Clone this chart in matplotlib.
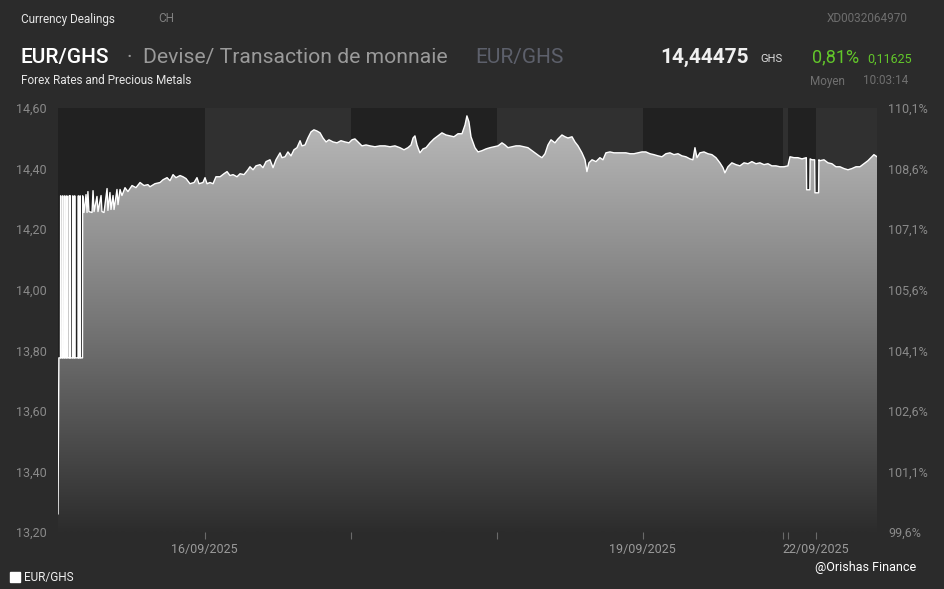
import numpy as np
import matplotlib.pyplot as plt
from matplotlib.colors import LinearSegmentedColormap

plt.rcParams['font.family'] = ['Roboto', 'DejaVu Sans']

# x = trading-day position (0 = 15/09 open, weekend compressed), y = EUR/GHS rate
day_pos = [
    0.000, 0.006, 0.017, 0.018, 0.019, 0.020, 0.031, 0.032, 0.033, 0.034,
    0.045, 0.046, 0.047, 0.048, 0.059, 0.060, 0.061, 0.062, 0.076, 0.077,
    0.078, 0.079, 0.083, 0.084, 0.085, 0.086, 0.100, 0.101, 0.102, 0.103,
    0.113, 0.114, 0.115, 0.116, 0.138, 0.139, 0.140, 0.141, 0.150, 0.151,
    0.152, 0.153, 0.168, 0.169, 0.172,
    0.178, 0.192, 0.199, 0.205, 0.212, 0.233, 0.240, 0.247, 0.267, 0.274,
    0.295, 0.301, 0.315, 0.336, 0.342, 0.356, 0.363, 0.377, 0.384, 0.404,
    0.411, 0.425, 0.438, 0.459, 0.479, 0.507, 0.534, 0.562, 0.589, 0.616,
    0.630, 0.664, 0.699, 0.719, 0.747, 0.767, 0.788, 0.808, 0.836, 0.856,
    0.877, 0.904, 0.932, 0.952, 0.966, 0.993, 1.007, 1.021, 1.041, 1.062,
    1.082, 1.110, 1.137, 1.158, 1.178, 1.199, 1.226, 1.247, 1.274, 1.301,
    1.315, 1.336, 1.356, 1.384, 1.404, 1.425, 1.452, 1.473, 1.493, 1.521,
    1.534, 1.555, 1.575, 1.596, 1.616, 1.637, 1.658, 1.671, 1.692, 1.712,
    1.733, 1.753, 1.774, 1.795, 1.815, 1.836, 1.856, 1.884, 1.911, 1.938,
    1.966, 1.993, 2.014, 2.034, 2.055, 2.082, 2.110, 2.137, 2.171, 2.205,
    2.240, 2.274, 2.308, 2.342, 2.370, 2.397, 2.418, 2.432, 2.445, 2.459,
    2.479, 2.500, 2.521, 2.548, 2.575, 2.603, 2.630, 2.658, 2.685, 2.712,
    2.740, 2.767, 2.788, 2.801, 2.815, 2.829, 2.842, 2.856, 2.877, 2.904,
    2.932, 2.959, 2.986, 3.014, 3.041, 3.062, 3.082, 3.110, 3.137, 3.164,
    3.192, 3.219, 3.247, 3.267, 3.295, 3.315, 3.336, 3.356, 3.377, 3.404,
    3.425, 3.452, 3.473, 3.493, 3.521, 3.541, 3.562, 3.589, 3.610, 3.623,
    3.637, 3.658, 3.685, 3.712, 3.733, 3.753, 3.781, 3.808, 3.836, 3.863,
    3.890, 3.918, 3.945, 3.973, 4.000, 4.027, 4.055, 4.082, 4.110, 4.137,
    4.164, 4.192, 4.219, 4.247, 4.274, 4.301, 4.329, 4.349, 4.363, 4.377,
    4.397, 4.425, 4.452, 4.479, 4.507, 4.534, 4.555, 4.568, 4.589, 4.616,
    4.644, 4.671, 4.699, 4.726, 4.753, 4.781, 4.808, 4.836, 4.863, 4.890,
    4.918, 4.945, 4.973, 5.000, 5.014, 5.041, 5.068, 5.096, 5.126, 5.128,
    5.150, 5.152, 5.164, 5.183, 5.185, 5.210, 5.212, 5.219, 5.247, 5.274,
    5.301, 5.329, 5.356, 5.384, 5.411, 5.438, 5.466, 5.493, 5.521, 5.548,
    5.575, 5.589, 5.610,
]
rate = [
    13.260, 13.775, 13.775, 14.310, 14.310, 13.775, 13.775, 14.310, 14.310, 13.775,
    13.775, 14.310, 14.310, 13.775, 13.775, 14.310, 14.310, 13.775, 13.775, 14.310,
    14.310, 13.775, 13.775, 14.310, 14.310, 13.775, 13.775, 14.310, 14.310, 13.775,
    13.775, 14.310, 14.310, 13.775, 13.775, 14.310, 14.310, 13.775, 13.775, 14.310,
    14.310, 13.775, 13.775, 14.310, 14.300,
    14.255, 14.314, 14.255, 14.324, 14.258, 14.255, 14.327, 14.258, 14.308, 14.258,
    14.311, 14.258, 14.255, 14.334, 14.262, 14.321, 14.265, 14.311, 14.265, 14.331,
    14.281, 14.331, 14.311, 14.337, 14.324, 14.344, 14.337, 14.354, 14.344, 14.347,
    14.340, 14.350, 14.354, 14.363, 14.370, 14.360, 14.380, 14.370, 14.377, 14.373,
    14.367, 14.350, 14.354, 14.370, 14.350, 14.354, 14.370, 14.350, 14.354, 14.350,
    14.373, 14.373, 14.383, 14.390, 14.377, 14.380, 14.373, 14.383, 14.380, 14.396,
    14.406, 14.396, 14.409, 14.413, 14.403, 14.423, 14.429, 14.403, 14.429, 14.452,
    14.436, 14.439, 14.455, 14.442, 14.462, 14.469, 14.492, 14.475, 14.478, 14.501,
    14.521, 14.528, 14.524, 14.518, 14.501, 14.488, 14.495, 14.488, 14.485, 14.492,
    14.488, 14.485, 14.495, 14.498, 14.488, 14.475, 14.478, 14.475, 14.472, 14.475,
    14.475, 14.472, 14.475, 14.469, 14.462, 14.469, 14.478, 14.501, 14.508, 14.478,
    14.452, 14.465, 14.469, 14.485, 14.498, 14.508, 14.518, 14.511, 14.508, 14.505,
    14.515, 14.515, 14.544, 14.574, 14.554, 14.505, 14.488, 14.469, 14.455, 14.459,
    14.465, 14.469, 14.472, 14.475, 14.485, 14.478, 14.469, 14.472, 14.475, 14.475,
    14.472, 14.469, 14.459, 14.452, 14.442, 14.436, 14.449, 14.478, 14.495, 14.485,
    14.498, 14.511, 14.505, 14.501, 14.505, 14.488, 14.475, 14.452, 14.429, 14.390,
    14.419, 14.429, 14.423, 14.436, 14.429, 14.452, 14.455, 14.452, 14.452, 14.452,
    14.452, 14.449, 14.449, 14.452, 14.455, 14.455, 14.449, 14.446, 14.442, 14.439,
    14.449, 14.452, 14.446, 14.449, 14.442, 14.439, 14.432, 14.429, 14.469, 14.436,
    14.452, 14.455, 14.449, 14.446, 14.436, 14.419, 14.403, 14.386, 14.406, 14.419,
    14.413, 14.409, 14.419, 14.416, 14.423, 14.416, 14.419, 14.413, 14.416, 14.409,
    14.409, 14.406, 14.406, 14.409, 14.439, 14.436, 14.436, 14.432, 14.436, 14.330,
    14.330, 14.432, 14.429, 14.429, 14.320, 14.320, 14.429, 14.426, 14.429, 14.419,
    14.416, 14.406, 14.406, 14.400, 14.396, 14.400, 14.406, 14.406, 14.416, 14.426,
    14.439, 14.446, 14.439,
]

# session boundaries (alternating shading) and date ticks
session_edges = [0.0, 1.005, 2.005, 3.005, 4.005, 4.965, 5.0, 5.19, 5.61]
tick_pos = [1.005, 2.005, 3.005, 4.005, 4.965, 5.0, 5.19]
tick_labels = ['16/09/2025', '', '', '19/09/2025', '', '', '22/09/2025']

left_ticks = [13.2, 13.4, 13.6, 13.8, 14.0, 14.2, 14.4, 14.6]
pct_ticks = [99.6, 101.1, 102.6, 104.1, 105.6, 107.1, 108.6, 110.1]

bg = '#2b2b2b'
fig = plt.figure(figsize=(9.45, 5.89), dpi=100, facecolor=bg)
ax = fig.add_axes([58 / 945, 1 - 532 / 589, (877 - 58) / 945, (532 - 108) / 589])
ax.set_facecolor(bg)
ax.set_xlim(0, 5.61)
ax.set_ylim(13.2, 14.6)

for i in range(len(session_edges) - 1):
    ax.axvspan(session_edges[i], session_edges[i + 1],
               color='#212121' if i % 2 == 0 else '#303030', lw=0, zorder=0)

# gradient area under the line
area = ax.fill_between(day_pos, rate, 13.2, color='none', lw=0)
grad = np.linspace(0, 1, 256).reshape(-1, 1)
cmap = LinearSegmentedColormap.from_list('g', ['#2c2c2c', '#777777', '#bdbdbd'])
im = ax.imshow(grad, cmap=cmap, extent=[0, 5.61, 13.2, 14.6], origin='lower',
               aspect='auto', zorder=1, interpolation='bilinear')
im.set_clip_path(area.get_paths()[0], transform=ax.transData)
ax.plot(day_pos, rate, color='white', lw=1.0, zorder=2)

for s in ax.spines.values():
    s.set_visible(False)
ax.set_yticks(left_ticks)
ax.set_yticklabels([f'{v:.2f}'.replace('.', ',') for v in left_ticks])
ax.tick_params(axis='y', length=0, pad=8, labelsize=9, labelcolor='#8a8a8a')
ax.set_xticks(tick_pos)
ax.set_xticklabels(tick_labels)
ax.tick_params(axis='x', length=5, width=0.8, color='#6a6a6a', pad=3,
               labelsize=9, labelcolor='#9a9a9a')

ax2 = ax.twinx()
ax2.set_ylim(99.6, 110.1)
ax2.set_yticks(pct_ticks)
ax2.set_yticklabels([f'{v:.1f}%'.replace('.', ',') for v in pct_ticks])
ax2.tick_params(axis='y', length=0, pad=8, labelsize=9, labelcolor='#8a8a8a')
for s in ax2.spines.values():
    s.set_visible(False)

# header
fig.text(21 / 945, 1 - 19 / 589, 'Currency Dealings', color='#e6e6e6', fontsize=8.5, va='center')
fig.text(158 / 945, 1 - 19 / 589, 'CH', color='#808080', fontsize=8.5, va='center')
fig.text(908 / 945, 1 - 19 / 589, 'XD0032064970', color='#6e6e6e', fontsize=8.5, va='center', ha='right')
fig.text(21 / 945, 1 - 57 / 589, 'EUR/GHS', color='white', fontsize=15, va='center', weight='medium')
fig.text(127 / 945, 1 - 57 / 589, '·  Devise/ Transaction de monnaie', color='#9a9a9a', fontsize=15.2, va='center')
fig.text(475 / 945, 1 - 57 / 589, 'EUR/GHS', color='#5d606b', fontsize=15, va='center')
fig.text(749 / 945, 1 - 57 / 589, '14,44475', color='#f0f0f0', fontsize=15, va='center', ha='right', weight='bold')
fig.text(760 / 945, 1 - 59 / 589, 'GHS', color='#dddddd', fontsize=8, va='center')
fig.text(812 / 945, 1 - 57 / 589, '0,81%', color='#62c62a', fontsize=13, va='center')
fig.text(867 / 945, 1 - 59 / 589, '0,11625', color='#62c62a', fontsize=9, va='center')
fig.text(21 / 945, 1 - 81 / 589, 'Forex Rates and Precious Metals', color='#e6e6e6', fontsize=8.5, va='center')
fig.text(845 / 945, 1 - 81 / 589, 'Moyen', color='#707070', fontsize=8.5, va='center', ha='right')
fig.text(908 / 945, 1 - 81 / 589, '10:03:14', color='#707070', fontsize=8.5, va='center', ha='right')

# footer
fig.patches.append(plt.Rectangle((10 / 945, 1 - 582 / 589), 10 / 945, 10 / 589,
                                 transform=fig.transFigure, color='white'))
fig.text(24 / 945, 1 - 577 / 589, 'EUR/GHS', color='#f0f0f0', fontsize=8.5, va='center')
fig.text(916 / 945, 1 - 568 / 589, '@Orishas Finance', color='white', fontsize=9, va='center', ha='right')

fig.savefig('out.png', dpi=100, facecolor=bg)
